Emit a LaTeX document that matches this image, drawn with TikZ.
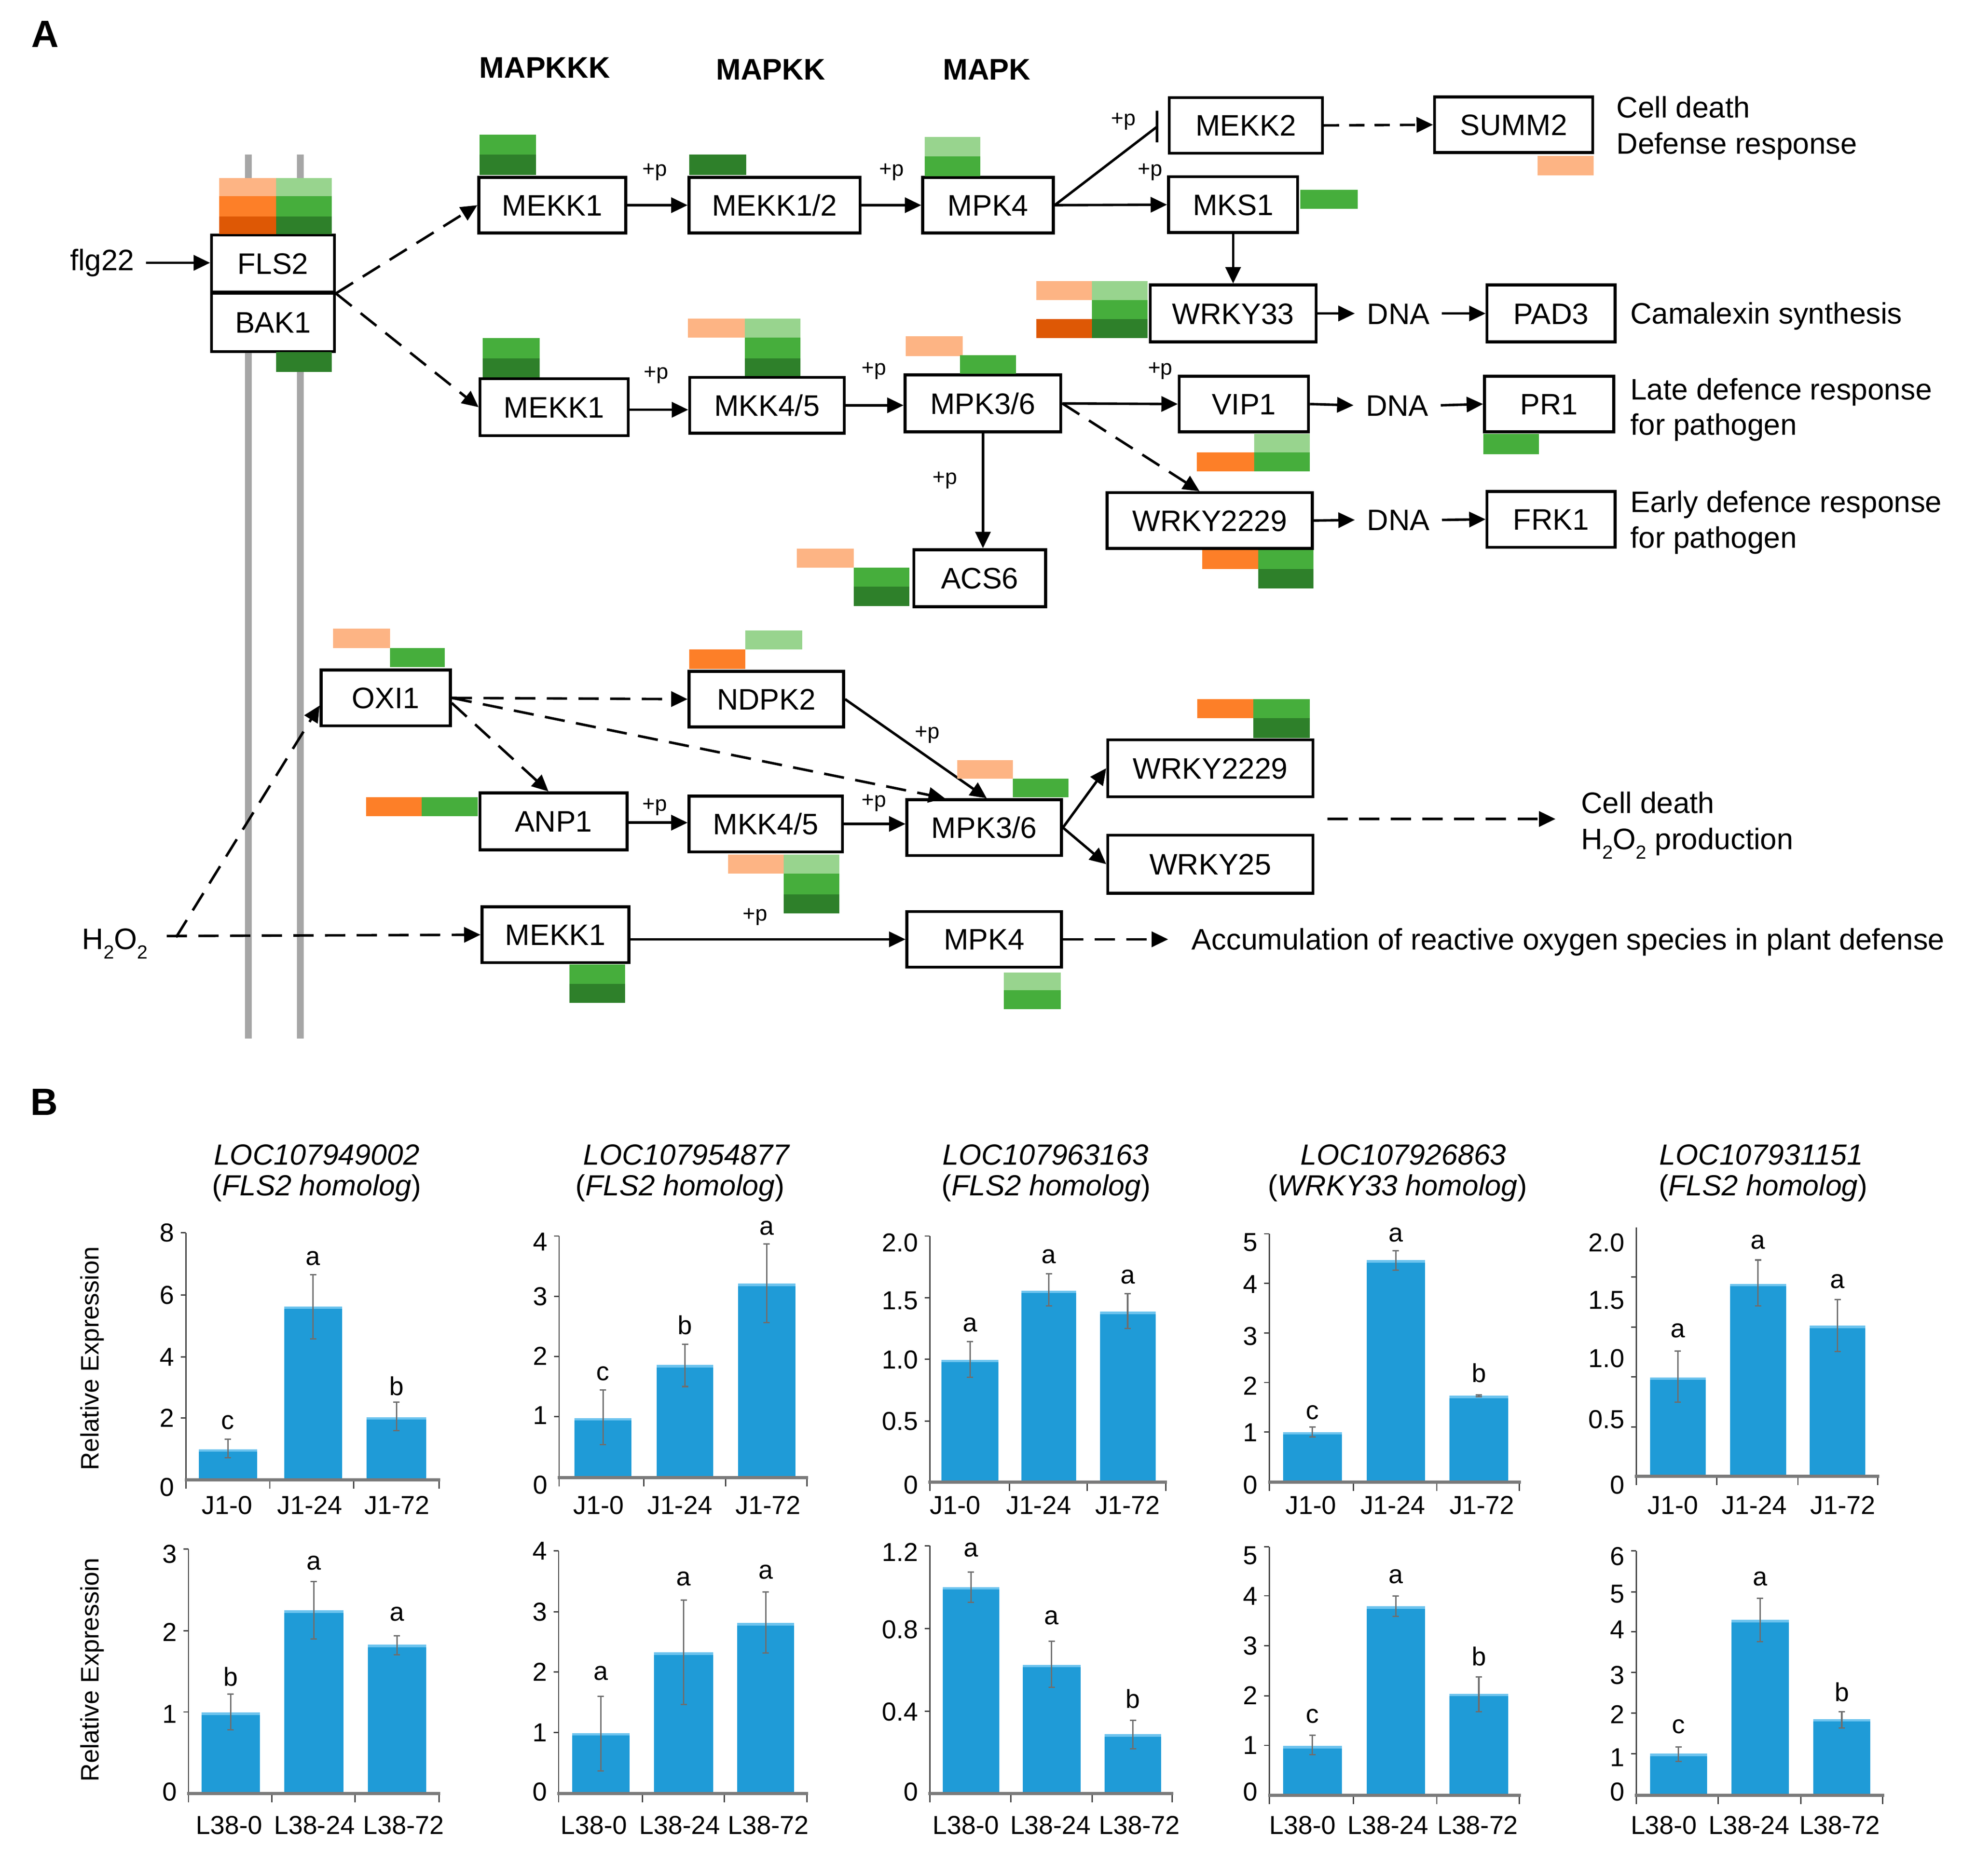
\documentclass[tikz,border=0pt]{standalone}
\usepackage{fontspec}
\setmainfont{Liberation Sans}
\usetikzlibrary{arrows.meta}
\definecolor{lo}{HTML}{FDB484}
\definecolor{om}{HTML}{FD7F28}
\definecolor{od}{HTML}{DE5805}
\definecolor{lg}{HTML}{98D48E}
\definecolor{gm}{HTML}{46AE3C}
\definecolor{gd}{HTML}{2E802A}
\definecolor{membgray}{HTML}{A6A6A6}
\definecolor{barblue}{HTML}{1F9BD7}
\definecolor{barlight}{HTML}{6CC3EE}
\definecolor{errgray}{HTML}{6E6E6E}
\definecolor{axgray}{HTML}{404040}
\definecolor{axbot}{HTML}{7A7A7A}
\newcommand{\sbt}[1]{\raisebox{-0.33em}{\fontsize{15}{15}\selectfont #1}}
\tikzset{
  pbox/.style={draw, fill=white, line width=2.3pt, inner sep=0pt, text height=16.75pt, text depth=0pt, font=\fontsize{23.4}{27}\selectfont},
  txt/.style={inner sep=0pt, font=\fontsize{23.4}{27}\selectfont},
  dnatxt/.style={inner ysep=0pt, inner xsep=9.5pt, text height=16.75pt, text depth=0pt, font=\fontsize{23.4}{27}\selectfont},
  plab/.style={inner sep=0pt, font=\fontsize{17}{20}\selectfont},
  hdr/.style={inner sep=0pt, font=\bfseries\fontsize{23.5}{27}\selectfont},
  pan/.style={inner sep=0pt, font=\bfseries\fontsize{30}{34}\selectfont},
  conn/.style={line width=2pt},
  sol/.style={conn, -{Triangle[length=13pt,width=12pt]}},
  dsh/.style={sol, dash pattern=on 16pt off 9pt},
  dshs/.style={sol, dash pattern=on 12pt off 8pt},
  memb/.style={draw=membgray, line width=5.5pt},
  barc/.style={fill=barblue},
  barlt/.style={draw=barlight, line width=2pt},
  errl/.style={draw=errgray, line width=1.1pt},
  axl/.style={draw=axgray, line width=1pt},
  axb/.style={draw=axbot, line width=2.4pt},
  tickf/.style={inner sep=0pt, font=\fontsize{20.5}{24}\selectfont},
  ttl/.style={inner sep=0pt, font=\itshape\fontsize{23}{27}\selectfont},
  ylab/.style={inner sep=0pt, font=\fontsize{20}{24}\selectfont, rotate=90}
}
\newcommand{\pbx}[6]{\node[pbox, minimum width=#4pt, minimum height=#5pt] (#1) at (#2,#3) {#6};}
\newcommand{\hsq}[5]{\fill[#5] (#1,#2) rectangle (#3,#4);}
\newcommand{\cbar}[9]{%
  \fill[barc] (#2,#4) rectangle (#3,#5);
  \draw[barlt] (#2,#4+1) -- (#3,#4+1);
  \draw[errl] ({(#2+#3)/2},#6) -- ({(#2+#3)/2},#7);
  \draw[errl] ({(#2+#3)/2-2.5},#6) -- ({(#2+#3)/2+2.5},#6);
  \draw[errl] ({(#2+#3)/2-2.5},#7) -- ({(#2+#3)/2+2.5},#7);
  \node[tickf] (#1l) at ({(#2+#3)/2},#9) {#8};
}
\newcommand{\caxes}[6]{%
  \draw[axl] (#1,#3) -- (#1,#4);
  \foreach \tx in {#5} {\draw[axl] (\tx,#4) -- (\tx,#4+7);}
  \foreach \ty in {#6} {\draw[axl] (#1-4,\ty) -- (#1,\ty);}
  \draw[axb] (#1-1,#4) -- (#2+1,#4);
}
\newcommand{\cylab}[3]{%
  \foreach \lab/\ly [count=\i] in {#3} {\node[tickf, anchor=east] (#1y\i) at (#2-9,\ly) {\lab};}
}
\newcommand{\cxlab}[3]{%
  \foreach \lx/\lab [count=\i] in {#3} {\node[tickf] (#1x\i) at (\lx,#2) {\lab};}
}
\begin{document}
\begin{tikzpicture}[x=1pt,y=-1pt]
\useasboundingbox (0,0) rectangle (1560,1481.1);
\fill[white] (0,0) rectangle (1560,1481.1);

% ---------------- Panel A ----------------
\node[pan] (labA) at (35.7,26.8) {A};
\node[hdr] (hMAPKKK) at (430,53.5) {MAPKKK};
\node[hdr] (hMAPKK) at (608.4,55) {MAPKK};
\node[hdr] (hMAPK) at (779,55) {MAPK};

% membrane lines
\draw[memb] (196,122) -- (196,820);
\draw[memb] (237,122) -- (237,820);

% coordinates for free ends
\coordinate (inh) at (913.5,100);
\coordinate (cd1) at (1048,646.6);
\coordinate (cd2) at (1228,646.6);
\coordinate (acc) at (922.2,741.6);
\coordinate (h2s) at (131.6,739);
\coordinate (h2j) at (139,740);

% boxes
\pbx{FLS2}{215.5}{208}{97}{45}{FLS2}
\pbx{BAK1}{215.5}{254.5}{97}{46}{BAK1}
\pbx{MEKK1a}{436}{162}{116}{44}{MEKK1}
\pbx{MEKK12}{611.5}{162}{135}{44}{MEKK1/2}
\pbx{MPK4a}{780}{162}{103}{44}{MPK4}
\pbx{MEKK2}{983.5}{99}{121}{44}{MEKK2}
\pbx{SUMM2}{1195}{98.5}{125}{44}{SUMM2}
\pbx{MKS1}{973.5}{161.6}{102}{44}{MKS1}
\pbx{WRKY33}{973.5}{247.5}{131}{45}{WRKY33}
\pbx{PAD3}{1224.5}{247.5}{101}{45}{PAD3}
\pbx{MEKK1b}{437.5}{321.5}{117}{45}{MEKK1}
\pbx{MKK45a}{605.5}{320}{122}{44}{MKK4/5}
\pbx{MPK36a}{776}{318.5}{123}{45}{MPK3/6}
\pbx{VIP1}{982}{319}{102}{44}{VIP1}
\pbx{PR1}{1223}{319}{102}{44}{PR1}
\pbx{ACS6}{773.5}{456.5}{104}{45}{ACS6}
\pbx{WRKY2229a}{955}{411}{162}{44}{WRKY2229}
\pbx{FRK1}{1224.5}{410}{101}{44}{FRK1}
\pbx{OXI1}{304.5}{551}{102}{44}{OXI1}
\pbx{NDPK2}{605}{552}{122}{44}{NDPK2}
\pbx{ANP1}{437}{648.5}{116}{45}{ANP1}
\pbx{MKK45b}{604.5}{650.5}{121}{44}{MKK4/5}
\pbx{MPK36b}{777}{653.4}{122}{44}{MPK3/6}
\pbx{WRKY2229b}{955.5}{606.5}{162}{45}{WRKY2229}
\pbx{WRKY25}{955.5}{682.3}{162}{46}{WRKY25}
\pbx{MEKK1c}{438.5}{738}{116}{44}{MEKK1}
\pbx{MPK4b}{777}{741.6}{122}{44}{MPK4}

% text nodes
\node[txt, anchor=east, inner xsep=0pt] (flg22) at (106.3,207.5) {flg22};
\node[txt, anchor=base west] (H2O2) at (64.7,749.4) {H\sbt{2}O\sbt{2}};
\node[dnatxt] (DNA1) at (1104,247.5) {DNA};
\node[dnatxt] (DNA2) at (1103,320) {DNA};
\node[dnatxt] (DNA3) at (1104,410.5) {DNA};
\node[txt, anchor=base west] (cd1t) at (1276,92.9) {Cell death};
\node[txt, anchor=base west] (cd2t) at (1276,121.5) {Defense response};
\node[txt, anchor=base west] (camt) at (1287,255.5) {Camalexin synthesis};
\node[txt, anchor=base west] (late1) at (1287,315.5) {Late defence response};
\node[txt, anchor=base west] (late2) at (1287,343.5) {for pathogen};
\node[txt, anchor=base west] (early1) at (1287,404.5) {Early defence response};
\node[txt, anchor=base west] (early2) at (1287,432.5) {for pathogen};
\node[txt, anchor=base west] (cd3t) at (1248,642) {Cell death};
\node[txt, anchor=base west] (cd4t) at (1248,670.5) {H\sbt{2}O\sbt{2} production};
\node[txt, anchor=base west] (acct) at (940.6,749.8) {Accumulation of reactive oxygen species in plant defense};

% +p labels
\node[plab] (p1) at (517,136) {+p};
\node[plab] (p2) at (704,136) {+p};
\node[plab] (p3) at (887,96) {+p};
\node[plab] (p4) at (908,136) {+p};
\node[plab] (p5) at (518,296) {+p};
\node[plab] (p6) at (690,293) {+p};
\node[plab] (p7) at (916,293) {+p};
\node[plab] (p8) at (746,379) {+p};
\node[plab] (p9) at (732,580) {+p};
\node[plab] (p10) at (517,637) {+p};
\node[plab] (p11) at (690,634) {+p};
\node[plab] (p12) at (596,724) {+p};

% connectors
\draw[sol] (flg22.east) ++(9pt,0) -- (FLS2.west |- flg22.east);
\draw[dsh] (FLS2.south east) -- (MEKK1a.west);
\draw[dsh] (FLS2.south east) -- (MEKK1b.west);
\draw[sol] (MEKK1a.east) -- (MEKK12.west);
\draw[sol] (MEKK12.east) -- (MPK4a.west);
\draw[sol] (MPK4a.east) -- (MKS1.west);
\draw[conn] (MPK4a.east) -- (inh);
\draw[conn] ([yshift=12.5pt]inh) -- ([yshift=-12.5pt]inh);
\draw[dshs] (MEKK2.east) -- (SUMM2.west);
\draw[sol] (MKS1.south) -- (WRKY33.north);
\draw[sol] (WRKY33.east) -- (DNA1.west);
\draw[sol] (DNA1.east) -- (PAD3.west);
\draw[sol] ([yshift=-2pt]MEKK1b.east) -- ([yshift=-2pt]MEKK1b.east -| MKK45a.west);
\draw[sol] (MKK45a.east) -- (MKK45a.east -| MPK36a.west);
\draw[sol] (MPK36a.east) -- (VIP1.west);
\draw[dsh] (MPK36a.east) -- ([xshift=-8pt]WRKY2229a.north);
\draw[sol] (MPK36a.south) -- (MPK36a.south |- ACS6.north);
\draw[sol] (VIP1.east) -- (DNA2.west);
\draw[sol] (DNA2.east) -- (PR1.west);
\draw[sol] (WRKY2229a.east) -- (DNA3.west);
\draw[sol] (DNA3.east) -- (FRK1.west);

\draw[dsh] (OXI1.east) -- (NDPK2.west);
\draw[dsh] (OXI1.east) -- ([xshift=-31pt]MPK36b.north);
\draw[dsh] ([yshift=-4pt]OXI1.east) -- ([xshift=-4pt]ANP1.north);
\draw[sol] (NDPK2.east) -- ([xshift=2pt]MPK36b.north);
\draw[sol] ([yshift=-1pt]ANP1.east) -- ([yshift=-1pt]ANP1.east -| MKK45b.west);
\draw[sol] (MKK45b.east) -- (MKK45b.east -| MPK36b.west);
\draw[sol] (MPK36b.east) -- (WRKY2229b.west);
\draw[sol] (MPK36b.east) -- (WRKY25.west);
\draw[dsh] (cd1) -- (cd2);
\draw[dsh] (h2s) -- (MEKK1c.west);
\draw[dsh] (h2j) -- ([yshift=-6pt]OXI1.west);
\draw[sol] (MEKK1c.east |- MPK4b.west) -- (MPK4b.west);
\draw[dsh] (MPK4b.east) -- (acc);

% heat squares
\hsq{173}{140.5}{218}{155}{lo} \hsq{218}{140.5}{262}{155}{lg}
\hsq{173}{155}{218}{171}{om} \hsq{218}{155}{262}{171}{gm}
\hsq{173}{171}{218}{185}{od} \hsq{218}{171}{262}{185}{gd}
\hsq{218}{278}{262}{293.5}{gd}
\hsq{378.7}{106.5}{423}{122}{gm} \hsq{378.7}{122}{423}{138}{gd}
\hsq{544}{122}{589}{138}{gd}
\hsq{730}{108}{774}{123.5}{lg} \hsq{730}{123.5}{774}{139}{gm}
\hsq{1026.6}{150}{1071.7}{165}{gm}
\hsq{1214}{123}{1258}{138.5}{lo}
\hsq{818}{222}{862}{237}{lo} \hsq{862}{222}{906}{237}{lg}
\hsq{862}{237}{906}{252}{gm}
\hsq{818}{252}{862}{267}{od} \hsq{862}{252}{906}{267}{gd}
\hsq{381}{267}{426}{283}{gm} \hsq{381}{283}{426}{298}{gd}
\hsq{543}{251.6}{588}{266.5}{lo} \hsq{588}{251.6}{632}{266.5}{lg}
\hsq{588}{266.5}{632}{283}{gm} \hsq{588}{283}{632}{297}{gd}
\hsq{715}{265.5}{760}{281}{lo} \hsq{758}{280.5}{802}{295}{gm}
\hsq{990}{342.5}{1034}{357}{lg} \hsq{990}{357}{1034}{372}{gm} \hsq{945}{357}{990}{372}{om}
\hsq{1171}{342.5}{1215}{358.6}{gm}
\hsq{629}{433}{674}{448}{lo} \hsq{674}{448}{718}{463}{gm} \hsq{674}{463}{718}{478.5}{gd}
\hsq{949}{434.4}{993.5}{449.4}{om} \hsq{993.5}{434.4}{1037}{449.4}{gm} \hsq{993.5}{449.4}{1037}{464.7}{gd}
\hsq{263}{496.4}{308}{511.5}{lo} \hsq{308}{511.5}{351}{526.6}{gm}
\hsq{544}{512.6}{588.5}{528}{om} \hsq{588.5}{497.9}{633.4}{512.6}{lg}
\hsq{289}{629.3}{333}{644.4}{om} \hsq{333}{629.3}{377.3}{644.4}{gm}
\hsq{574.7}{674.7}{618.6}{689.8}{lo} \hsq{618.6}{674.7}{662.5}{689.8}{lg}
\hsq{618.6}{689.8}{662.5}{706}{gm} \hsq{618.6}{706}{662.5}{721.2}{gd}
\hsq{755.7}{600}{799.6}{614.8}{lo} \hsq{799.6}{614.8}{843.4}{629.3}{gm}
\hsq{945.2}{551.9}{989.3}{567}{om} \hsq{989.3}{551.9}{1033.9}{567}{gm} \hsq{989.3}{567}{1033.9}{582.5}{gd}
\hsq{449.7}{761.6}{493.6}{776.7}{gm} \hsq{449.7}{776.7}{493.6}{791.9}{gd}
\hsq{792.4}{767.7}{837.4}{781.7}{lg} \hsq{792.4}{781.7}{837.4}{796.8}{gm}

% ---------------- Panel B ----------------
\node[pan] (labB) at (35,870) {B};
\node[ylab] (yl1) at (72.9,1072.5) {Relative Expression};
\node[ylab] (yl2) at (72.9,1318.3) {Relative Expression};

\node[ttl] (t1a) at (250,911.6) {LOC107949002};
\node[ttl] (t1b) at (250,938) {{\upshape(}FLS2 homolog{\upshape)}};
\node[ttl] (t2a) at (541.8,911.6) {LOC107954877};
\node[ttl] (t2b) at (537,938) {{\upshape(}FLS2 homolog{\upshape)}};
\node[ttl] (t3a) at (825.5,911.6) {LOC107963163};
\node[ttl] (t3b) at (826,938) {{\upshape(}FLS2 homolog{\upshape)}};
\node[ttl] (t4a) at (1108,911.6) {LOC107926863};
\node[ttl] (t4b) at (1103.3,938) {{\upshape(}WRKY33 homolog{\upshape)}};
\node[ttl] (t5a) at (1390.4,911.6) {LOC107931151};
\node[ttl] (t5b) at (1392,938) {{\upshape(}FLS2 homolog{\upshape)}};

% chart 1
\cbar{c1a}{157}{202.9}{1144.2}{1168.3}{1136.1}{1151}{c}{1123}
\cbar{c1b}{224.3}{270.1}{1031.5}{1168.3}{1006.3}{1057}{a}{993.6}
\cbar{c1c}{289.5}{336.4}{1118.9}{1168.3}{1106.9}{1129.5}{b}{1094.3}
\caxes{146.8}{346.6}{973.2}{1168.3}{146.8,213,279.3,346.6}{973.2,1022.4,1071.3,1119.6}
\cylab{c1}{146.8}{8/973.2,6/1022.4,4/1071.3,2/1119.6,0/1174}
\cxlab{c1}{1188.5}{179.4/J1-0,244.7/J1-24,313.5/J1-72}

% chart 2
\cbar{c2a}{453.6}{498.5}{1119.6}{1166.7}{1097.3}{1140.7}{c}{1084.6}
\cbar{c2b}{518.4}{563.2}{1077.7}{1166.7}{1061.4}{1094.7}{b}{1046}
\cbar{c2c}{582.6}{628}{1013.4}{1166.7}{982.1}{1044.2}{a}{969.7}
\caxes{441.4}{637.1}{975.9}{1166.7}{441.4,508.2,572.9,637.1}{975.9,1023.5,1071.1,1118.4}
\cylab{c2}{441.4}{4/980.5,3/1023.5,2/1070.5,1/1117.5,0/1172.4}
\cxlab{c2}{1188.5}{472.5/J1-0,536.7/J1-24,606.5/J1-72}

% chart 3
\cbar{c3a}{743.3}{788.2}{1073.6}{1170.1}{1059.1}{1087.4}{a}{1046}
\cbar{c3b}{806.3}{849.7}{1018.9}{1170.1}{1005.8}{1031.1}{a}{992}
\cbar{c3c}{868.3}{912.2}{1035.5}{1170.1}{1021.4}{1049}{a}{1008.1}
\caxes{734}{920.4}{975.9}{1170.1}{734,797,858.4,920.4}{975.9,1024.6,1073.1,1121.9}
\cylab{c3}{734}{2.0/981,1.5/1027,1.0/1073.5,0.5/1122,0/1172.4}
\cxlab{c3}{1188.5}{754.2/J1-0,820/J1-24,890.2/J1-72}

% chart 4
\cbar{c4a}{1013.1}{1059.2}{1130.6}{1170.1}{1126.5}{1134.5}{c}{1115}
\cbar{c4b}{1078.9}{1125}{994.8}{1170.1}{987.4}{1002.8}{a}{974.8}
\cbar{c4c}{1144.2}{1190.8}{1101.9}{1170.1}{1101.2}{1102.6}{b}{1084}
\caxes{1002.1}{1199.5}{974.1}{1170.1}{1002.1,1068.5,1134.3,1199.5}{974.1,1013.2,1052.5,1091.5,1130.6}
\cylab{c4}{1002.1}{5/981,4/1013.8,3/1055,2/1094,1/1131,0/1172.4}
\cxlab{c4}{1188.5}{1035/J1-0,1099.7/J1-24,1170/J1-72}

% chart 5
\cbar{c5a}{1302.7}{1346.5}{1087.4}{1165.5}{1066.7}{1106.9}{a}{1050.6}
\cbar{c5b}{1365.7}{1410.1}{1013.6}{1165.5}{994.8}{1031.1}{a}{980.5}
\cbar{c5c}{1428.8}{1472.6}{1046.5}{1165.5}{1026}{1067.2}{a}{1011.5}
\caxes{1291.7}{1482.5}{969}{1165.5}{1291.7,1355.3,1419.4,1482.5}{1008.1,1047.9,1087,1126.5}
\cylab{c5}{1291.7}{2.0/981,1.5/1026.5,1.0/1072.5,0.5/1120.7,0/1172.4}
\cxlab{c5}{1188.5}{1320.7/J1-0,1385/J1-24,1455/J1-72}

% chart 6
\cbar{c6a}{159}{205}{1352}{1416}{1337.6}{1365.7}{b}{1323.6}
\cbar{c6b}{224.3}{271.2}{1271.3}{1416}{1248.5}{1294}{a}{1234}
\cbar{c6c}{290.5}{336.4}{1298.5}{1416}{1291.4}{1306.4}{a}{1274.4}
\caxes{148.8}{346.6}{1223}{1416}{148.8,214.6,280.3,346.6}{1223,1287.6,1351.6}
\cylab{c6}{148.8}{3/1227,2/1288.5,1/1353.4,0/1414.8}
\cxlab{c6}{1441.1}{181/L38-0,248.2/L38-24,318.6/L38-72}

% chart 7
\cbar{c7a}{451.6}{497}{1368.3}{1416}{1339.3}{1398.1}{a}{1321}
\cbar{c7b}{516.3}{563.2}{1304.6}{1416}{1263.4}{1345.8}{a}{1246.4}
\cbar{c7c}{582.1}{627}{1281.4}{1416}{1256.9}{1305.1}{a}{1241.1}
\caxes{441}{637.1}{1224.4}{1416}{441,507.2,571.9,637.1}{1224.4,1272.7,1320,1367.8}
\cylab{c7}{441}{4/1224.4,3/1272.7,2/1320,1/1367.8,0/1414.8}
\cxlab{c7}{1441.1}{469/L38-0,536.7/L38-24,606.5/L38-72}

% chart 8
\cbar{c8a}{744.4}{788.8}{1253}{1416}{1241.1}{1265.1}{a}{1223.5}
\cbar{c8b}{807.4}{853}{1314.4}{1416}{1295.8}{1332}{a}{1277}
\cbar{c8c}{872.1}{916.6}{1369.2}{1416}{1358.3}{1380.6}{b}{1341.1}
\caxes{734}{925.3}{1220.4}{1416}{734,798.1,862.3,925.3}{1220.4,1285.8,1351.1}
\cylab{c8}{734}{1.2/1225.3,0.8/1286.7,0.4/1351.6,0/1414.8}
\cxlab{c8}{1441.1}{762.5/L38-0,829.4/L38-24,899.6/L38-72}

% chart 9
\cbar{c9a}{1013.1}{1059.2}{1378.5}{1417.4}{1370}{1385.3}{c}{1355.1}
\cbar{c9b}{1078.9}{1125}{1268.1}{1417.4}{1260}{1276.2}{a}{1244.6}
\cbar{c9c}{1144.2}{1190.8}{1337.2}{1417.4}{1323.9}{1351.3}{b}{1307.8}
\caxes{1002.1}{1199.5}{1221.3}{1417.4}{1002.1,1068.5,1134.3,1199.5}{1221.3,1259.9,1299.3,1338.8,1378}
\cylab{c9}{1002.1}{5/1228,4/1260,3/1299.3,2/1338.5,1/1378,0/1414.8}
\cxlab{c9}{1441.1}{1028.4/L38-0,1095.9/L38-24,1166.6/L38-72}

% chart 10
\cbar{c10a}{1302.7}{1347.6}{1384.4}{1417.4}{1379.3}{1390.6}{c}{1363}
\cbar{c10b}{1366.8}{1412.3}{1278.8}{1417.4}{1261.8}{1296}{a}{1246.4}
\cbar{c10c}{1431.5}{1476.5}{1357.2}{1417.4}{1351.3}{1364.4}{b}{1335.8}
\caxes{1291.7}{1486.4}{1224.4}{1417.4}{1291.7,1356.4,1421.6,1486.4}{1224.4,1256.8,1288.4,1320.5,1352.5,1384.6}
\cylab{c10}{1291.7}{6/1228.8,5/1258.6,4/1286.7,3/1322.7,2/1353.4,1/1387.6,0/1414.8}
\cxlab{c10}{1441.1}{1313.6/L38-0,1381/L38-24,1452.4/L38-72}

\end{tikzpicture}
\end{document}
